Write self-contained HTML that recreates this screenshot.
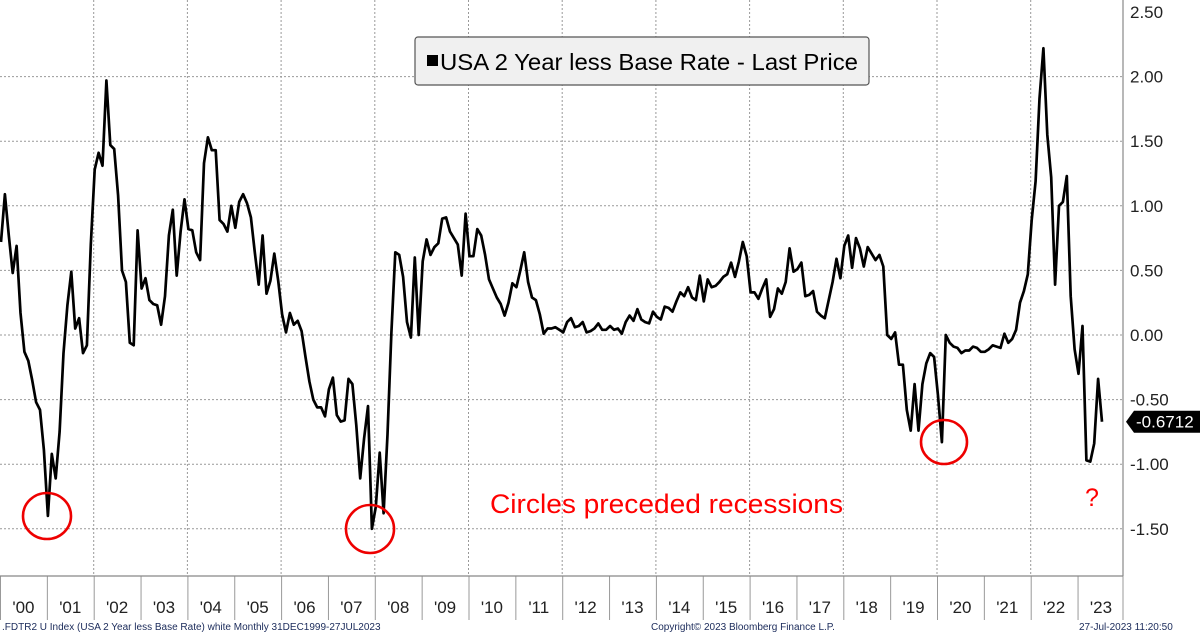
<!DOCTYPE html>
<html><head><meta charset="utf-8"><title>USA 2 Year less Base Rate</title>
<style>
html,body{margin:0;padding:0;background:#fff;}
svg{display:block;font-family:"Liberation Sans",sans-serif;}
</style></head>
<body>
<svg id="chart" width="1200" height="633" viewBox="0 0 1200 633" xmlns="http://www.w3.org/2000/svg">
<g id="grid"></g>
<g id="axes"></g>
<path id="series" fill="none" stroke="#000" stroke-width="2.7" stroke-linejoin="round"/>
<g>
<ellipse cx="47" cy="516" rx="24" ry="23" fill="none" stroke="#e00" stroke-width="2.6"/>
<ellipse cx="370" cy="529" rx="24" ry="24" fill="none" stroke="#e00" stroke-width="2.6"/>
<ellipse cx="944" cy="442" rx="23" ry="22" fill="none" stroke="#e00" stroke-width="2.6"/>
<text x="490" y="513" font-size="27" fill="#f00" textLength="353" lengthAdjust="spacingAndGlyphs">Circles preceded recessions</text>
<text x="1085" y="506" font-size="25" fill="#f00">?</text>
</g>
<g>
<rect x="415" y="37" width="454" height="48" rx="3" fill="#f0f0f0" stroke="#555" stroke-width="1.2"/>
<rect x="427" y="55" width="11" height="11" fill="#000"/>
<text x="440" y="70" font-size="23" fill="#000" textLength="418" lengthAdjust="spacingAndGlyphs">USA 2 Year less Base Rate - Last Price</text>
</g>
<g>
<polygon id="tagpoly" fill="#000"/>
<text id="tagtext" x="1136" font-size="17" fill="#fff">-0.6712</text>
</g>
<g font-size="10" fill="#1a2a5a">
<text x="2" y="630">.FDTR2 U Index (USA 2 Year less Base Rate) white  Monthly 31DEC1999-27JUL2023</text>
<text x="651" y="630">Copyright© 2023 Bloomberg Finance L.P.</text>
<text x="1079" y="630">27-Jul-2023 11:20:50</text>
</g>
</svg>
<script>
const yTicks = [2.5, 2.0, 1.5, 1.0, 0.5, 0.0, -0.5, -1.0, -1.5];
const yearLabels = ["'00","'01","'02","'03","'04","'05","'06","'07","'08","'09","'10","'11","'12","'13","'14","'15","'16","'17","'18","'19","'20","'21","'22","'23"];
const lastPrice = -0.6712;
const values = [0.72,1.09,0.77,0.48,0.69,0.17,-0.13,-0.2,-0.35,-0.52,-0.58,-0.89,-1.40,-0.92,-1.11,-0.75,-0.14,0.23,0.49,0.05,0.13,-0.14,-0.08,0.7,1.28,1.41,1.31,1.97,1.47,1.44,1.08,0.5,0.41,-0.06,-0.08,0.81,0.36,0.44,0.27,0.24,0.23,0.08,0.3,0.77,0.97,0.46,0.8,1.05,0.82,0.81,0.64,0.58,1.33,1.53,1.43,1.43,0.89,0.86,0.8,1.0,0.83,1.03,1.09,1.02,0.91,0.64,0.39,0.77,0.32,0.42,0.63,0.42,0.16,0.02,0.17,0.08,0.11,0.03,-0.17,-0.36,-0.5,-0.56,-0.56,-0.63,-0.42,-0.33,-0.62,-0.67,-0.66,-0.34,-0.38,-0.7,-1.11,-0.8,-0.55,-1.5,-1.33,-0.91,-1.38,-0.77,0.02,0.64,0.62,0.45,0.1,-0.02,0.6,0.0,0.57,0.74,0.62,0.68,0.71,0.9,0.91,0.8,0.75,0.7,0.46,0.94,0.61,0.61,0.82,0.77,0.62,0.43,0.36,0.29,0.24,0.15,0.25,0.4,0.37,0.5,0.64,0.41,0.29,0.27,0.16,0.01,0.05,0.05,0.06,0.04,0.02,0.1,0.13,0.06,0.07,0.1,0.02,0.03,0.05,0.09,0.04,0.04,0.07,0.04,0.05,0.01,0.1,0.15,0.11,0.2,0.12,0.1,0.09,0.18,0.14,0.12,0.22,0.21,0.18,0.26,0.33,0.3,0.37,0.29,0.27,0.46,0.26,0.43,0.37,0.38,0.41,0.45,0.47,0.56,0.45,0.57,0.72,0.61,0.33,0.33,0.28,0.36,0.43,0.14,0.2,0.36,0.32,0.41,0.67,0.49,0.51,0.56,0.3,0.31,0.34,0.18,0.15,0.13,0.27,0.41,0.59,0.44,0.69,0.77,0.52,0.75,0.67,0.53,0.68,0.63,0.58,0.62,0.53,0.0,-0.03,0.02,-0.23,-0.23,-0.58,-0.74,-0.38,-0.74,-0.38,-0.22,-0.14,-0.17,-0.47,-0.83,0.0,-0.06,-0.09,-0.1,-0.14,-0.12,-0.12,-0.09,-0.1,-0.13,-0.13,-0.11,-0.08,-0.09,-0.1,0.01,-0.06,-0.03,0.04,0.25,0.34,0.47,0.89,1.19,1.83,2.22,1.55,1.22,0.39,1.0,1.03,1.23,0.3,-0.11,-0.3,0.07,-0.97,-0.98,-0.84,-0.34,-0.6712];

const PLOT_R = 1123, PLOT_B = 576, YEAR_W = 46.85;
function yScale(v){ return 335 - v * 129.2; }
function xMonth(m){ return 1 + m * YEAR_W / 12; }
function xYear(i){ return i * YEAR_W; }
const NS = "http://www.w3.org/2000/svg";
function mk(tag, attrs, parent){ const e = document.createElementNS(NS, tag); for (const k in attrs) e.setAttribute(k, attrs[k]); parent.appendChild(e); return e; }

const grid = document.getElementById('grid');
const axes = document.getElementById('axes');
yTicks.forEach(t => {
  const y = yScale(t);
  if (t < 2.4) {
    const ln = mk('line', {x1:0, x2:PLOT_R, y1:y, y2:y, stroke:'#999', 'stroke-width':1, 'stroke-dasharray':'2,2'}, grid);
    
    
  }
  const tx = mk('text', {x:1130, y:y+6, 'font-size':17, fill:'#222'}, axes);
  tx.textContent = (t < 0 ? '-' : '') + Math.abs(t).toFixed(2);
  
  
});
yearLabels.forEach((lab, i) => {
  const x0 = xYear(i);
  if (i > 0 && i % 2 === 0) {
    const g = mk('line', {x1:x0, x2:x0, y1:0, y2:PLOT_B, stroke:'#999', 'stroke-width':1, 'stroke-dasharray':'2,2'}, grid);
    
    
  }
  const tk = mk('line', {x1:x0+0.5, x2:x0+0.5, y1:PLOT_B, y2:620, stroke:'#999', 'stroke-width':1}, axes);
  
  
  const tx = mk('text', {x:x0 + YEAR_W/2, y:613, 'font-size':17, fill:'#222', 'text-anchor':'middle'}, axes);
  tx.textContent = lab;
  
  
});
const lastTick = mk('line', {x1:PLOT_R, x2:PLOT_R, y1:PLOT_B, y2:620, stroke:'#999', 'stroke-width':1}, axes);


const rAx = mk('line', {x1:PLOT_R, x2:PLOT_R, y1:0, y2:PLOT_B, stroke:'#888', 'stroke-width':1.2}, axes);


const bAx = mk('line', {x1:0, x2:PLOT_R, y1:PLOT_B, y2:PLOT_B, stroke:'#888', 'stroke-width':1.2}, axes);



document.getElementById('series').setAttribute('d', values.map((v, m) => (m ? 'L' : 'M') + xMonth(m).toFixed(1) + ' ' + yScale(v).toFixed(1)).join(' '));

const ty = yScale(lastPrice);
document.getElementById('tagpoly').setAttribute('points', `1126,${ty} 1134,${ty-11} 1200,${ty-11} 1200,${ty+11} 1134,${ty+11}`);
document.getElementById('tagtext').setAttribute('y', ty + 6);
document.getElementById('tagtext').textContent = lastPrice.toFixed(4);
</script>
</body></html>
